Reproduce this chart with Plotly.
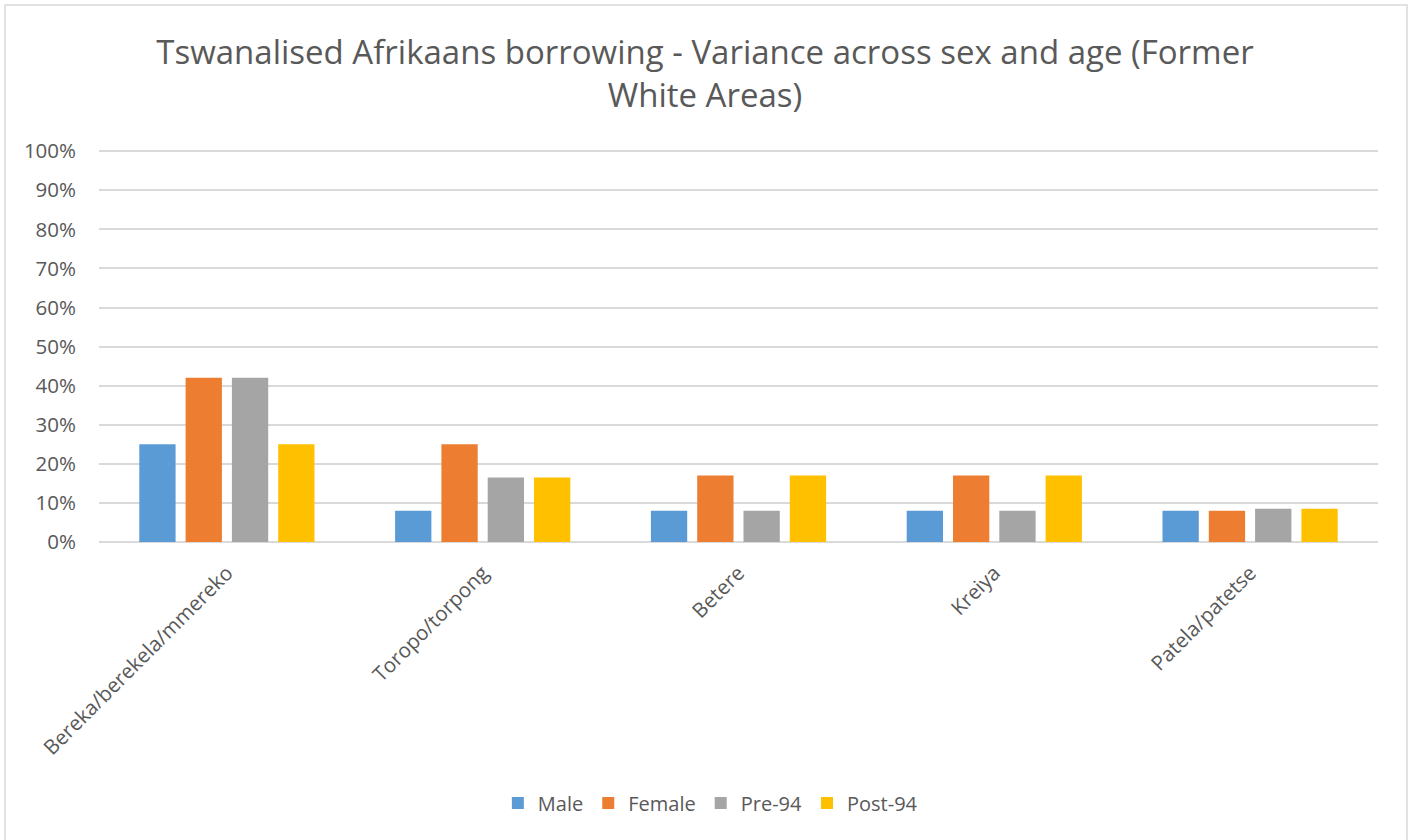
import plotly.graph_objects as go

categories = ["Bereka/berekela/mmereko", "Toropo/torpong", "Betere", "Kreiya", "Patela/patetse"]
male = [25, 8, 8, 8, 8]
female = [42, 25, 17, 17, 8]
pre_94 = [42, 16.5, 8, 8, 8.5]
post_94 = [25, 16.5, 17, 17, 8.5]

series = [
    ("Male", male, "#5B9BD5"),
    ("Female", female, "#ED7D31"),
    ("Pre-94", pre_94, "#A5A5A5"),
    ("Post-94", post_94, "#FFC000"),
]

y_ticks = list(range(0, 101, 10))
y_tick_text = [f"{v}%" for v in y_ticks]

FONT = "Open Sans"
TEXT = "#595959"
GRID = "#D9D9D9"

fig = go.Figure()
for name, vals, color in series:
    fig.add_trace(go.Bar(
        x=categories, y=vals, name=name,
        marker=dict(color=color, line=dict(width=0)),
    ))

# small headroom above 100% so the top gridline is drawn
Y_TOP = 100.3
PLOT_T, PLOT_B = 150, 298
plot_h = 840 - PLOT_T - PLOT_B

fig.update_layout(
    width=1410, height=840,
    margin=dict(l=99, r=32, t=PLOT_T, b=PLOT_B),
    paper_bgcolor="white", plot_bgcolor="white",
    barmode="group", bargap=0.276, bargroupgap=0.216,
    font=dict(family=FONT, color=TEXT),
    title=dict(
        text="Tswanalised Afrikaans borrowing - Variance across sex and age (Former<br>White Areas)",
        x=0.5, xref="container", xanchor="center",
        y=1 - 64 / 840, yref="container", yanchor="top",
        font=dict(family=FONT, size=33, color=TEXT),
    ),
    xaxis=dict(
        tickangle=-45, tickfont=dict(family=FONT, size=20.5, color=TEXT),
        showgrid=False, showline=False, ticks="", zeroline=False,
        ticklabelstandoff=14,
    ),
    yaxis=dict(
        range=[0, Y_TOP], tickvals=y_ticks, ticktext=y_tick_text,
        tickfont=dict(family=FONT, size=20.5, color=TEXT),
        showgrid=True, gridcolor=GRID, gridwidth=1.5,
        zeroline=True, zerolinecolor=GRID, zerolinewidth=1.5,
        showline=False, ticks="", ticklabelstandoff=22,
    ),
    legend=dict(
        orientation="h", x=0.478, xanchor="center",
        y=-(803 - (840 - PLOT_B)) / plot_h, yanchor="middle",
        font=dict(family=FONT, size=20, color=TEXT),
        itemwidth=30, traceorder="normal",
    ),
    shapes=[dict(
        type="rect", xref="paper", yref="paper",
        x0=(5 - 99) / 1279, x1=(1407 - 99) / 1279,
        y0=-(845 - (840 - PLOT_B)) / plot_h, y1=((840 - PLOT_B) - 5) / plot_h,
        line=dict(color=GRID, width=1.5), fillcolor="rgba(0,0,0,0)",
        layer="below",
    )],
)

fig.write_html("out.html")
